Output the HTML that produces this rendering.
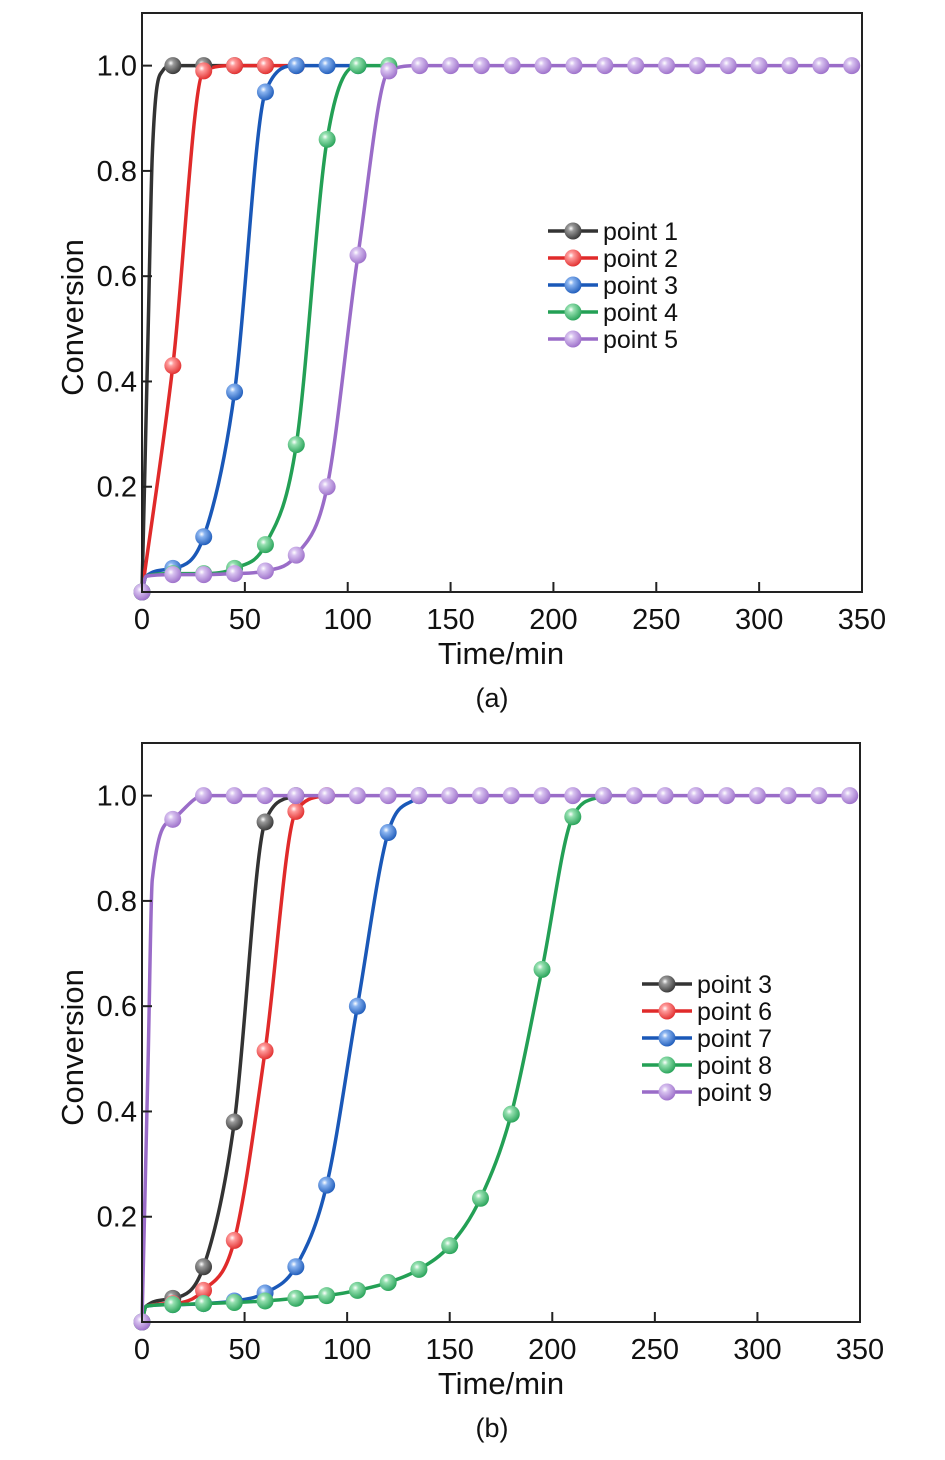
<!DOCTYPE html>
<html><head><meta charset="utf-8">
<style>
html,body{margin:0;padding:0;background:#fff;}
svg{display:block;font-family:"Liberation Sans",Arial,sans-serif;}
</style></head>
<body>
<svg id="chart" width="945" height="1460" viewBox="0 0 945 1460" xmlns="http://www.w3.org/2000/svg">
<defs></defs>
</svg>
<script>
const NS="http://www.w3.org/2000/svg";
const svg=document.getElementById('chart');
const defs=svg.querySelector('defs');

const xTicks=[0,50,100,150,200,250,300,350];
const yTicks=[0.2,0.4,0.6,0.8,1.0];
const yTickLabels=["0.2","0.4","0.6","0.8","1.0"];

// Panel (a)
const aNames=["point 1","point 2","point 3","point 4","point 5"];
const aTimes1=[0,3,5,10,15,30,45,60];
const aVals1=[0,0.5,0.83,0.99,1,1,1,1];
const aTimes2=[0,15,30,45,60,75];
const aVals2=[0,0.43,0.99,1,1,1];
const aTimes3=[0,2,15,30,45,60,75,90,105];
const aVals3=[0,0.03,0.045,0.105,0.38,0.95,1,1,1];
const aTimes4=[0,2,15,30,45,60,75,90,105,120];
const aVals4=[0,0.03,0.035,0.035,0.045,0.09,0.28,0.86,1,1];
const aTimes5=[0,2,15,30,45,60,75,90,105,120,135,150,165,180,195,210,225,240,255,270,285,300,315,330,345];
const aVals5=[0,0.03,0.033,0.033,0.035,0.04,0.07,0.2,0.64,0.99,1,1,1,1,1,1,1,1,1,1,1,1,1,1,1];

// Panel (b)
const bNames=["point 3","point 6","point 7","point 8","point 9"];
const bTimes1=[0,2,15,30,45,60,75];
const bVals1=[0,0.03,0.045,0.105,0.38,0.95,1];
const bTimes2=[0,2,15,30,45,60,75,90];
const bVals2=[0,0.03,0.035,0.06,0.155,0.515,0.97,1];
const bTimes3=[0,2,15,30,45,60,75,90,105,120,135];
const bVals3=[0,0.03,0.033,0.035,0.04,0.055,0.105,0.26,0.6,0.93,1];
const bTimes4=[0,2,15,30,45,60,75,90,105,120,135,150,165,180,195,210,225];
const bVals4=[0,0.03,0.033,0.035,0.037,0.04,0.045,0.05,0.06,0.075,0.1,0.145,0.235,0.395,0.67,0.96,1];
const bTimes5=[0,3,5,15,30,45,60,75,90,105,120,135,150,165,180,195,210,225,240,255,270,285,300,315,330,345];
const bVals5=[0,0.5,0.84,0.955,1,1,1,1,1,1,1,1,1,1,1,1,1,1,1,1,1,1,1,1,1,1];

const colors=[["#333","#9a9a9a"],["#e02a2a","#ff9a9a"],["#1a58b8","#8ab4f0"],["#23a055","#95e0b0"],["#9a6cc8","#d8c2f0"]];
colors.forEach((c,i)=>{
  const g=document.createElementNS(NS,'radialGradient');
  g.setAttribute('id','g'+i);g.setAttribute('cx','0.38');g.setAttribute('cy','0.35');g.setAttribute('r','0.7');
  g.innerHTML='<stop offset="0" stop-color="#fff"/><stop offset="0.25" stop-color="'+c[1]+'"/><stop offset="1" stop-color="'+c[0]+'"/>';
  defs.appendChild(g);
});

function el(tag,attrs,parent){const e=document.createElementNS(NS,tag);for(const k in attrs)e.setAttribute(k,attrs[k]);(parent||svg).appendChild(e);return e;}

function monoPath(px,py){
  const n=px.length;const d=[],m=[];
  for(let i=0;i<n-1;i++)d.push((py[i+1]-py[i])/(px[i+1]-px[i]));
  for(let i=0;i<n;i++){
    if(i===0)m.push(d[0]);else if(i===n-1)m.push(d[n-2]);
    else m.push(d[i-1]*d[i]<=0?0:(d[i-1]+d[i])/2);
  }
  for(let i=0;i<n-1;i++){
    if(d[i]===0){m[i]=0;m[i+1]=0;continue;}
    const a=m[i]/d[i],b=m[i+1]/d[i],s=a*a+b*b;
    if(s>9){const t=3/Math.sqrt(s);m[i]=t*a*d[i];m[i+1]=t*b*d[i];}
  }
  let p='M'+px[0]+','+py[0];
  for(let i=0;i<n-1;i++){
    const h=(px[i+1]-px[i])/3;
    p+=' C'+(px[i]+h)+','+(py[i]+m[i]*h)+' '+(px[i+1]-h)+','+(py[i+1]-m[i+1]*h)+' '+px[i+1]+','+py[i+1];
  }
  return p;
}

function panel(cfg){
  const {id,top,bottom,left,right,series,names,legX,legY,label}=cfg;
  const g=el('g',{});
  
  
  const xs=v=>left+(v/350)*(right-left);
  const ys=v=>bottom-(v/1.1)*(bottom-top);
  series.forEach((s,i)=>{
    const path=el('path',{d:monoPath(s.t.map(xs),s.v.map(ys)),fill:'none',stroke:colors[i][0],'stroke-width':3.5},g);
    
    
  });
  series.forEach((s,i)=>{
    s.t.forEach((t,j)=>{
      if(t%15!==0)return;
      const c=el('circle',{cx:xs(t),cy:ys(s.v[j]),r:8.5,fill:'url(#g'+i+')'},g);
      
      
    });
  });
  const fr=el('rect',{x:left,y:top,width:right-left,height:bottom-top,fill:'none',stroke:'#222','stroke-width':2},g);
  
  
  xTicks.forEach(v=>{
    el('line',{x1:xs(v),x2:xs(v),y1:bottom,y2:bottom-10,stroke:'#222','stroke-width':2},g);
    const t=el('text',{x:xs(v),y:bottom+37,'font-size':29,'text-anchor':'middle',fill:'#111'},g);
    t.textContent=v;
    
    
  });
  yTicks.forEach((v,k)=>{
    el('line',{x1:left,x2:left+10,y1:ys(v),y2:ys(v),stroke:'#222','stroke-width':2},g);
    const t=el('text',{x:left-5,y:ys(v)+10,'font-size':29,'text-anchor':'end',fill:'#111'},g);
    t.textContent=yTickLabels[k];
    
    
  });
  const yt=el('text',{x:0,y:0,'font-size':31,'text-anchor':'middle',fill:'#111',transform:'translate(83,'+((top+bottom)/2+15)+') rotate(-90)'},g);
  yt.textContent='Conversion';
  
  
  const xt=el('text',{x:501,y:bottom+72,'font-size':31,'text-anchor':'middle',fill:'#111'},g);
  xt.textContent='Time/min';
  
  
  const lb=el('text',{x:492,y:bottom+115,'font-size':27,'text-anchor':'middle',fill:'#111'},g);
  lb.textContent=label;
  
  
  names.forEach((n,i)=>{
    const y=legY+i*27;
    const lg=el('g',{},g);
    
    
    el('line',{x1:legX,x2:legX+50,y1:y,y2:y,stroke:colors[i][0],'stroke-width':3.5},lg);
    el('circle',{cx:legX+25,cy:y,r:8.5,fill:'url(#g'+i+')'},lg);
    const t=el('text',{x:legX+55,y:y+9,'font-size':25,fill:'#111'},lg);
    t.textContent=n;
  });
}

panel({id:'a',top:13,bottom:592,left:142,right:862,label:'(a)',names:aNames,legX:548,legY:231,
  series:[{t:aTimes1,v:aVals1},{t:aTimes2,v:aVals2},{t:aTimes3,v:aVals3},{t:aTimes4,v:aVals4},{t:aTimes5,v:aVals5}]});
panel({id:'b',top:743,bottom:1322,left:142,right:860,label:'(b)',names:bNames,legX:642,legY:984,
  series:[{t:bTimes1,v:bVals1},{t:bTimes2,v:bVals2},{t:bTimes3,v:bVals3},{t:bTimes4,v:bVals4},{t:bTimes5,v:bVals5}]});
</script>
</body></html>
